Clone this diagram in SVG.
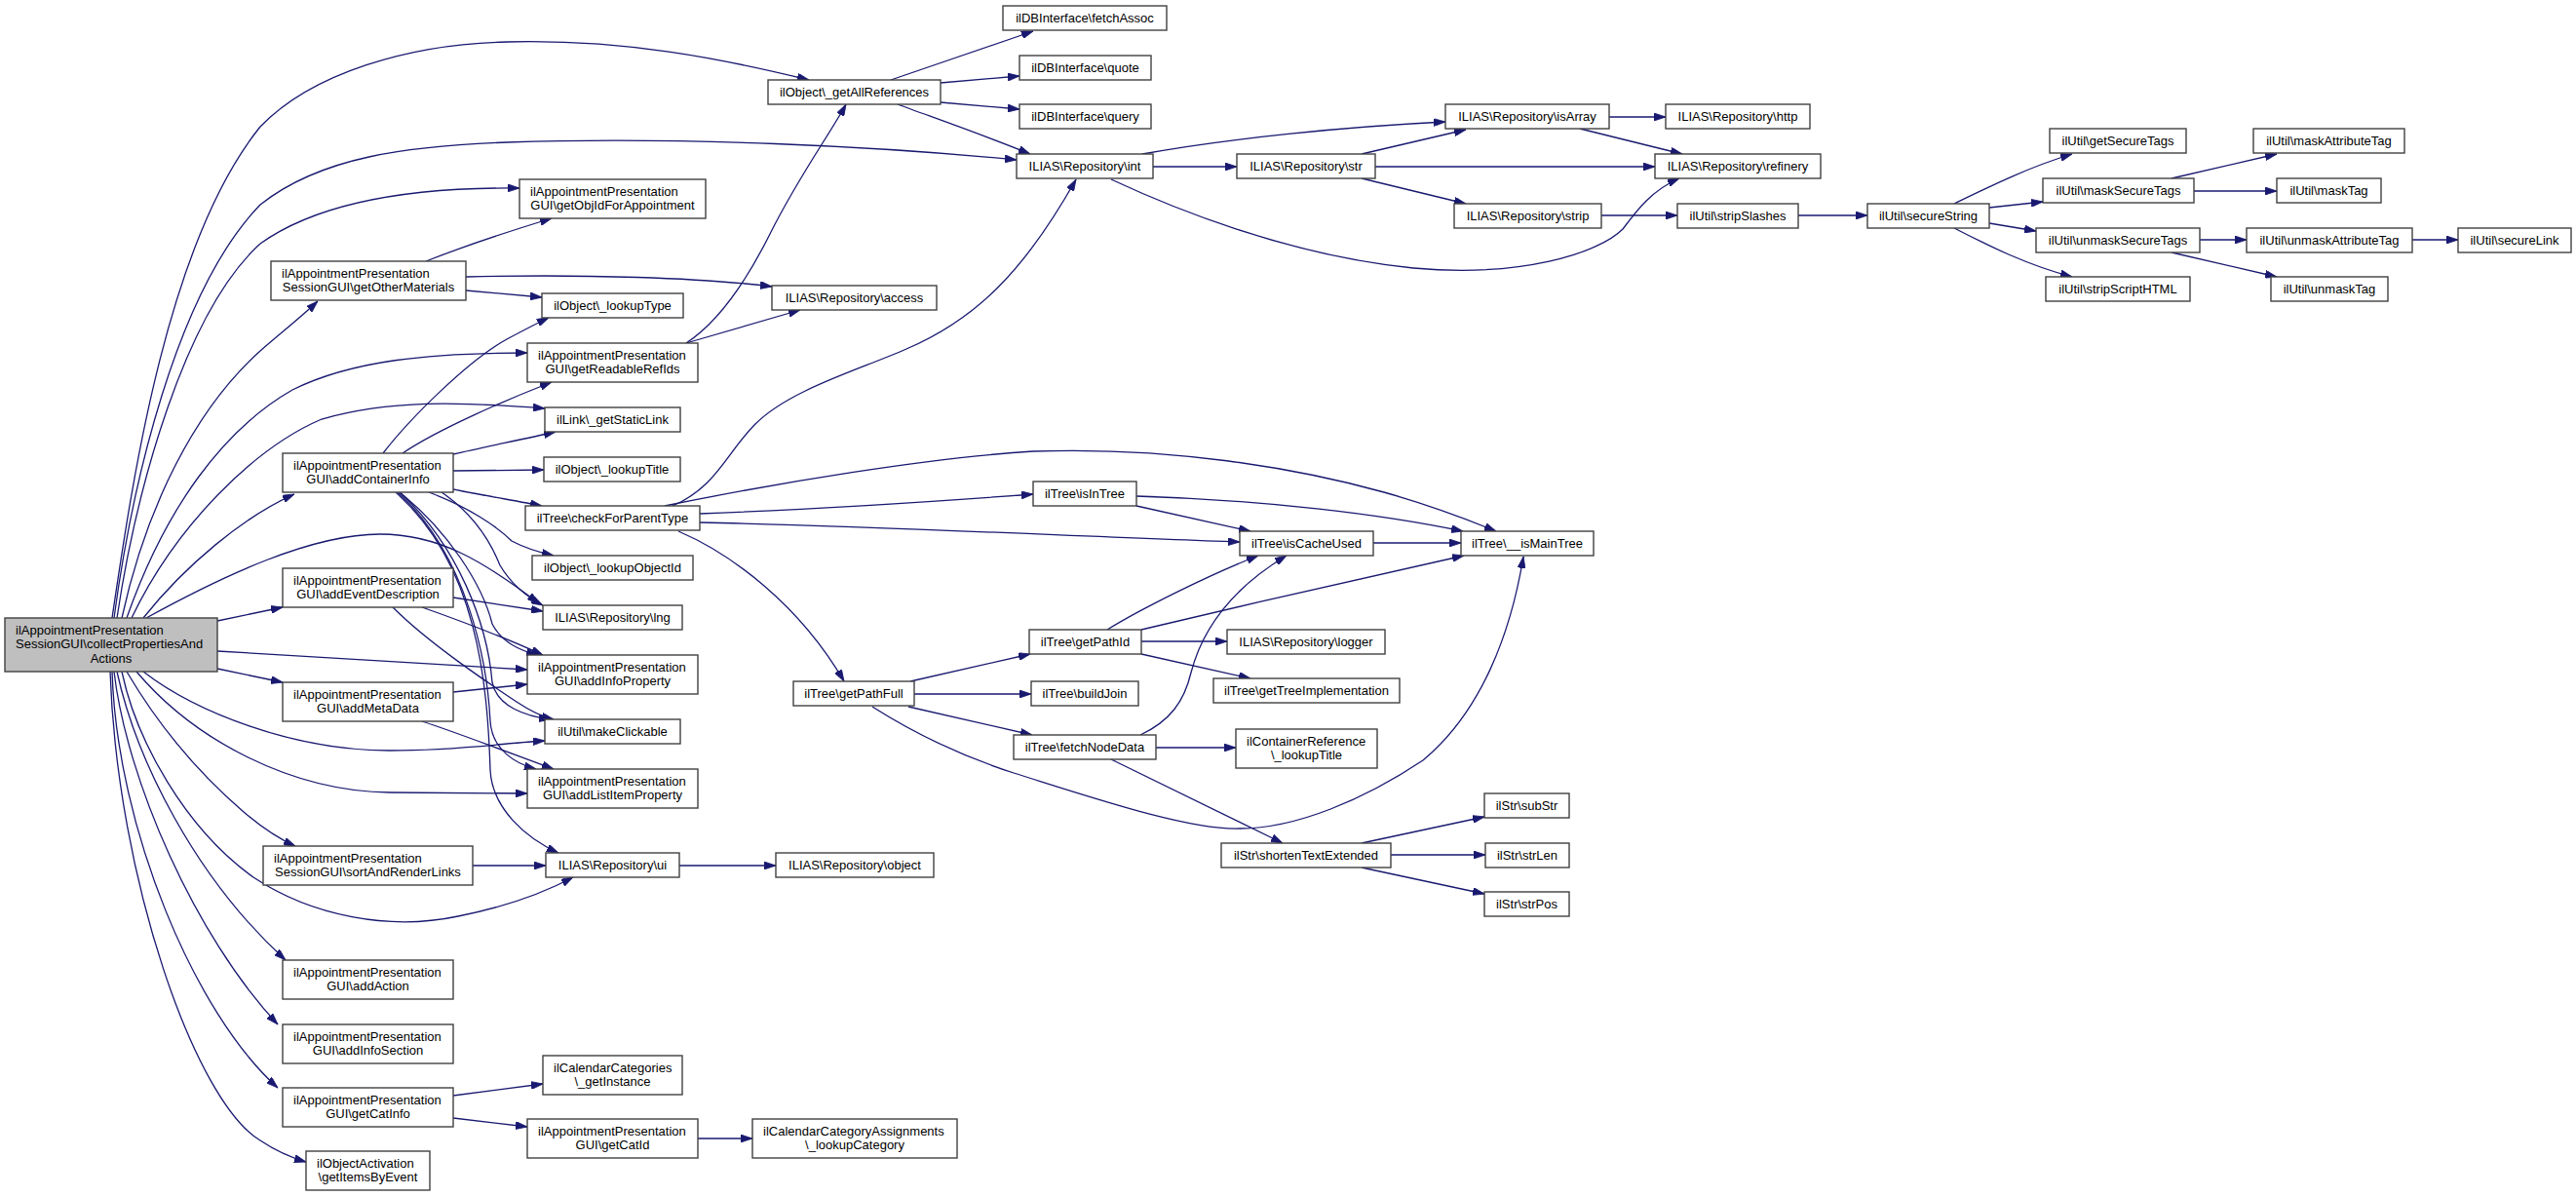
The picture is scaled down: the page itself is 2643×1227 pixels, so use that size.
<svg xmlns="http://www.w3.org/2000/svg" width="2643" height="1227" viewBox="0 0 2643 1227">
<defs>
<marker id="a" viewBox="0 0 12 8" refX="12" refY="4" markerWidth="12" markerHeight="8" markerUnits="userSpaceOnUse" orient="auto">
<path d="M0,0 L12,4 L0,8 z" fill="#191970" stroke="#191970" stroke-width="0.8"/>
</marker>
</defs>
<style>
.n rect{fill:#ffffff;stroke:#404040;stroke-width:1.4}
.root rect{fill:#bfbfbf}
text{font-family:"Liberation Sans",Arial,Helvetica,sans-serif;font-size:13px;fill:#000}
.m{text-anchor:middle}
#edges path{fill:none;stroke:#191970;stroke-width:1.3;marker-end:url(#a)}
</style>
<rect width="2643" height="1227" fill="#ffffff"/>
<g id="edges">
<path d="M115,634 C135,500 170,250 267,130 C320,75 420,45 520,43 C640,40 740,60 830,82"/>
<path d="M117,634 C135,500 180,300 267,210 C330,160 420,150 520,146 C700,140 900,150 1043,164"/>
<path d="M120,634 C140,500 190,320 267,250 C330,205 430,192 533,193"/>
<path d="M125,634 C150,520 200,420 267,360 C290,340 308,326 326,309"/>
<path d="M130,634 C170,520 230,440 300,400 C360,370 440,362 541,362"/>
<path d="M135,634 C180,540 260,460 330,430 C400,410 470,412 559,419"/>
<path d="M147,634 C190,580 250,530 302,507"/>
<path d="M150,634 C230,590 320,548 390,548 C450,548 495,575 553,619"/>
<path d="M223,637 L290,623"/>
<path d="M223,668 L541,687"/>
<path d="M223,686 L290,700"/>
<path d="M147,689 C200,730 300,770 400,770 C470,770 520,762 559,760"/>
<path d="M140,689 C200,760 300,812 400,813 L541,814"/>
<path d="M130,689 C160,740 200,790 250,833 C270,850 285,860 303,868"/>
<path d="M125,689 C140,760 190,850 260,900 C320,940 400,955 470,940 C520,930 560,915 588,900"/>
<path d="M120,689 C140,780 200,900 293,985"/>
<path d="M117,689 C130,800 200,960 285,1051"/>
<path d="M115,689 C120,850 200,1040 285,1116"/>
<path d="M113,689 C120,900 200,1130 267,1170 C285,1182 300,1188 314,1192"/>
<path d="M437,268 C470,255 520,238 566,224"/>
<path d="M478,284 C600,281 720,285 792,294"/>
<path d="M478,298 L556,305"/>
<path d="M393,465 C420,430 480,370 520,348 C535,340 550,332 563,326"/>
<path d="M413,465 C450,440 520,410 566,392"/>
<path d="M465,466 C500,458 540,450 570,443"/>
<path d="M465,483 L558,482"/>
<path d="M465,502 C490,507 530,514 556,519"/>
<path d="M440,505 C480,520 510,540 525,555 C540,563 555,567 568,570"/>
<path d="M453,505 C490,530 505,560 513,580 C525,600 540,612 557,621"/>
<path d="M410,505 C460,545 495,600 505,640 C515,660 535,668 552,672"/>
<path d="M410,505 C470,560 500,640 505,700 C510,725 540,735 565,738"/>
<path d="M408,505 C480,570 500,680 503,740 C505,770 530,784 550,789"/>
<path d="M406,505 C490,580 500,700 503,790 C505,830 540,860 573,875"/>
<path d="M465,613 L557,627"/>
<path d="M433,623 C470,636 520,655 557,672"/>
<path d="M403,623 C440,660 500,700 530,720 C545,730 555,735 568,738"/>
<path d="M465,710 L541,702"/>
<path d="M433,740 C470,752 530,775 568,789"/>
<path d="M485,888 L560,888"/>
<path d="M465,1124 L557,1112"/>
<path d="M465,1147 L541,1156"/>
<path d="M716,1168 L772,1168"/>
<path d="M697,888 L796,888"/>
<path d="M704,352 C730,335 760,300 790,240 C820,180 850,140 868,107"/>
<path d="M704,352 L821,318"/>
<path d="M690,519 C735,500 745,465 775,435 C810,400 880,380 930,358 C1000,328 1050,280 1104,184"/>
<path d="M682,519 C800,495 950,470 1060,463 C1200,458 1330,480 1420,505 C1480,522 1510,535 1535,545"/>
<path d="M718,527 C850,522 980,513 1060,507"/>
<path d="M718,536 C900,540 1100,550 1272,556"/>
<path d="M696,545 C750,568 820,620 866,699"/>
<path d="M934,699 L1057,671"/>
<path d="M938,712 L1058,712"/>
<path d="M932,725 L1059,754"/>
<path d="M895,725 C950,760 1000,780 1040,793 C1120,818 1220,852 1272,850 C1330,850 1400,820 1460,780 C1520,730 1550,650 1563,571"/>
<path d="M1136,646 C1170,625 1240,590 1291,570"/>
<path d="M1171,646 C1280,620 1420,588 1502,570"/>
<path d="M1171,658 L1259,658"/>
<path d="M1171,671 L1283,696"/>
<path d="M1170,754 C1200,740 1215,720 1222,690 C1235,640 1270,600 1320,570"/>
<path d="M1186,767 L1268,767"/>
<path d="M1140,779 L1316,865"/>
<path d="M1166,519 L1283,545"/>
<path d="M1166,509 C1300,513 1420,528 1501,545"/>
<path d="M1409,557 L1499,557"/>
<path d="M1397,865 L1523,838"/>
<path d="M1427,877 L1524,877"/>
<path d="M1397,890 L1523,917"/>
<path d="M914,82 L1060,32"/>
<path d="M965,85 L1046,78"/>
<path d="M965,105 L1046,112"/>
<path d="M921,107 C950,118 1000,135 1057,158"/>
<path d="M1172,158 C1260,142 1380,130 1483,125"/>
<path d="M1183,171 L1269,171"/>
<path d="M1140,184 C1200,212 1320,262 1450,275 C1560,285 1640,260 1665,235 C1680,215 1695,195 1723,183"/>
<path d="M1397,158 L1504,133"/>
<path d="M1411,171 L1698,171"/>
<path d="M1397,183 L1504,209"/>
<path d="M1651,120 L1709,120"/>
<path d="M1621,132 L1726,158"/>
<path d="M1643,221 L1721,221"/>
<path d="M1845,221 L1916,221"/>
<path d="M2005,209 C2040,192 2080,172 2126,158"/>
<path d="M2041,213 L2096,207"/>
<path d="M2041,229 L2089,237"/>
<path d="M2005,234 C2040,252 2080,272 2126,284"/>
<path d="M2228,183 L2336,158"/>
<path d="M2251,196 L2336,196"/>
<path d="M2257,246 L2305,246"/>
<path d="M2228,259 L2336,284"/>
<path d="M2475,246 L2522,246"/>
</g>
<g id="root" class="n root"><rect x="5" y="634" width="218" height="55"/><text x="16" y="650.5">ilAppointmentPresentation</text><text x="16" y="665">SessionGUI\collectPropertiesAnd</text><text class="m" x="114" y="679.5">Actions</text></g>
<g id="getOtherMaterials" class="n"><rect x="278" y="268" width="200" height="40"/><text x="289" y="284.5">ilAppointmentPresentation</text><text class="m" x="378" y="299">SessionGUI\getOtherMaterials</text></g>
<g id="addContainerInfo" class="n"><rect x="290" y="465" width="175" height="40"/><text x="301" y="481.5">ilAppointmentPresentation</text><text class="m" x="377.5" y="496">GUI\addContainerInfo</text></g>
<g id="addEventDescription" class="n"><rect x="290" y="583" width="175" height="40"/><text x="301" y="599.5">ilAppointmentPresentation</text><text class="m" x="377.5" y="614">GUI\addEventDescription</text></g>
<g id="addMetaData" class="n"><rect x="290" y="700" width="175" height="40"/><text x="301" y="716.5">ilAppointmentPresentation</text><text class="m" x="377.5" y="731">GUI\addMetaData</text></g>
<g id="sortAndRenderLinks" class="n"><rect x="270" y="868" width="215" height="40"/><text x="281" y="884.5">ilAppointmentPresentation</text><text class="m" x="377.5" y="899">SessionGUI\sortAndRenderLinks</text></g>
<g id="addAction" class="n"><rect x="290" y="985" width="175" height="40"/><text x="301" y="1001.5">ilAppointmentPresentation</text><text class="m" x="377.5" y="1016">GUI\addAction</text></g>
<g id="addInfoSection" class="n"><rect x="290" y="1051" width="175" height="40"/><text x="301" y="1067.5">ilAppointmentPresentation</text><text class="m" x="377.5" y="1082">GUI\addInfoSection</text></g>
<g id="getCatInfo" class="n"><rect x="290" y="1116" width="175" height="40"/><text x="301" y="1132.5">ilAppointmentPresentation</text><text class="m" x="377.5" y="1147">GUI\getCatInfo</text></g>
<g id="getItemsByEvent" class="n"><rect x="314" y="1181" width="127" height="40"/><text x="325" y="1197.5">ilObjectActivation</text><text class="m" x="377.5" y="1212">\getItemsByEvent</text></g>
<g id="getObjIdForAppointment" class="n"><rect x="533" y="184" width="191" height="40"/><text x="544" y="200.5">ilAppointmentPresentation</text><text class="m" x="628.5" y="215">GUI\getObjIdForAppointment</text></g>
<g id="lookupType" class="n"><rect x="556" y="301" width="145" height="25"/><text class="m" x="628.5" y="318">ilObject\_lookupType</text></g>
<g id="getReadableRefIds" class="n"><rect x="541" y="352" width="175" height="40"/><text x="552" y="368.5">ilAppointmentPresentation</text><text class="m" x="628.5" y="383">GUI\getReadableRefIds</text></g>
<g id="getAllReferences" class="n"><rect x="788" y="82" width="177" height="25"/><text class="m" x="876.5" y="99">ilObject\_getAllReferences</text></g>
<g id="access" class="n"><rect x="792" y="293" width="169" height="25"/><text class="m" x="876.5" y="310">ILIAS\Repository\access</text></g>
<g id="getStaticLink" class="n"><rect x="559" y="418" width="139" height="25"/><text class="m" x="628.5" y="435">ilLink\_getStaticLink</text></g>
<g id="lookupTitle" class="n"><rect x="558" y="469" width="140" height="25"/><text class="m" x="628" y="486">ilObject\_lookupTitle</text></g>
<g id="checkForParentType" class="n"><rect x="539" y="519" width="179" height="25"/><text class="m" x="628.5" y="536">ilTree\checkForParentType</text></g>
<g id="lookupObjectId" class="n"><rect x="546" y="570" width="165" height="25"/><text class="m" x="628.5" y="587">ilObject\_lookupObjectId</text></g>
<g id="lng" class="n"><rect x="557" y="621" width="143" height="25"/><text class="m" x="628.5" y="638">ILIAS\Repository\lng</text></g>
<g id="addInfoProperty" class="n"><rect x="541" y="672" width="175" height="40"/><text x="552" y="688.5">ilAppointmentPresentation</text><text class="m" x="628.5" y="703">GUI\addInfoProperty</text></g>
<g id="makeClickable" class="n"><rect x="559" y="738" width="139" height="25"/><text class="m" x="628.5" y="755">ilUtil\makeClickable</text></g>
<g id="addListItemProperty" class="n"><rect x="541" y="789" width="175" height="40"/><text x="552" y="805.5">ilAppointmentPresentation</text><text class="m" x="628.5" y="820">GUI\addListItemProperty</text></g>
<g id="ui" class="n"><rect x="560" y="875" width="137" height="25"/><text class="m" x="628.5" y="892">ILIAS\Repository\ui</text></g>
<g id="object" class="n"><rect x="796" y="875" width="162" height="25"/><text class="m" x="877" y="892">ILIAS\Repository\object</text></g>
<g id="getInstance" class="n"><rect x="557" y="1083" width="143" height="40"/><text x="568" y="1099.5">ilCalendarCategories</text><text class="m" x="628.5" y="1114">\_getInstance</text></g>
<g id="getCatId" class="n"><rect x="541" y="1148" width="175" height="40"/><text x="552" y="1164.5">ilAppointmentPresentation</text><text class="m" x="628.5" y="1179">GUI\getCatId</text></g>
<g id="lookupCategory" class="n"><rect x="772" y="1148" width="210" height="40"/><text x="783" y="1164.5">ilCalendarCategoryAssignments</text><text class="m" x="877" y="1179">\_lookupCategory</text></g>
<g id="getPathFull" class="n"><rect x="814" y="699" width="124" height="25"/><text class="m" x="876" y="716">ilTree\getPathFull</text></g>
<g id="fetchAssoc" class="n"><rect x="1029" y="6" width="168" height="25"/><text class="m" x="1113" y="23">ilDBInterface\fetchAssoc</text></g>
<g id="quote" class="n"><rect x="1046" y="57" width="135" height="25"/><text class="m" x="1113.5" y="74">ilDBInterface\quote</text></g>
<g id="query" class="n"><rect x="1046" y="107" width="135" height="25"/><text class="m" x="1113.5" y="124">ilDBInterface\query</text></g>
<g id="int" class="n"><rect x="1043" y="158" width="140" height="25"/><text class="m" x="1113" y="175">ILIAS\Repository\int</text></g>
<g id="str" class="n"><rect x="1269" y="158" width="142" height="25"/><text class="m" x="1340" y="175">ILIAS\Repository\str</text></g>
<g id="isArray" class="n"><rect x="1483" y="107" width="168" height="25"/><text class="m" x="1567" y="124">ILIAS\Repository\isArray</text></g>
<g id="strip" class="n"><rect x="1492" y="209" width="151" height="25"/><text class="m" x="1567.5" y="226">ILIAS\Repository\strip</text></g>
<g id="http" class="n"><rect x="1709" y="107" width="148" height="25"/><text class="m" x="1783" y="124">ILIAS\Repository\http</text></g>
<g id="refinery" class="n"><rect x="1698" y="158" width="170" height="25"/><text class="m" x="1783" y="175">ILIAS\Repository\refinery</text></g>
<g id="stripSlashes" class="n"><rect x="1721" y="209" width="124" height="25"/><text class="m" x="1783" y="226">ilUtil\stripSlashes</text></g>
<g id="secureString" class="n"><rect x="1916" y="209" width="125" height="25"/><text class="m" x="1978.5" y="226">ilUtil\secureString</text></g>
<g id="getSecureTags" class="n"><rect x="2103" y="132" width="140" height="25"/><text class="m" x="2173" y="149">ilUtil\getSecureTags</text></g>
<g id="maskSecureTags" class="n"><rect x="2096" y="183" width="155" height="25"/><text class="m" x="2173.5" y="200">ilUtil\maskSecureTags</text></g>
<g id="unmaskSecureTags" class="n"><rect x="2089" y="234" width="168" height="25"/><text class="m" x="2173" y="251">ilUtil\unmaskSecureTags</text></g>
<g id="stripScriptHTML" class="n"><rect x="2099" y="284" width="148" height="25"/><text class="m" x="2173" y="301">ilUtil\stripScriptHTML</text></g>
<g id="maskAttributeTag" class="n"><rect x="2312" y="132" width="155" height="25"/><text class="m" x="2389.5" y="149">ilUtil\maskAttributeTag</text></g>
<g id="maskTag" class="n"><rect x="2336" y="183" width="107" height="25"/><text class="m" x="2389.5" y="200">ilUtil\maskTag</text></g>
<g id="unmaskAttributeTag" class="n"><rect x="2305" y="234" width="170" height="25"/><text class="m" x="2390" y="251">ilUtil\unmaskAttributeTag</text></g>
<g id="unmaskTag" class="n"><rect x="2330" y="284" width="120" height="25"/><text class="m" x="2390" y="301">ilUtil\unmaskTag</text></g>
<g id="secureLink" class="n"><rect x="2522" y="234" width="116" height="25"/><text class="m" x="2580" y="251">ilUtil\secureLink</text></g>
<g id="isInTree" class="n"><rect x="1060" y="494" width="106" height="25"/><text class="m" x="1113" y="511">ilTree\isInTree</text></g>
<g id="isCacheUsed" class="n"><rect x="1272" y="545" width="137" height="25"/><text class="m" x="1340.5" y="562">ilTree\isCacheUsed</text></g>
<g id="isMainTree" class="n"><rect x="1499" y="545" width="136" height="25"/><text class="m" x="1567" y="562">ilTree\__isMainTree</text></g>
<g id="getPathId" class="n"><rect x="1056" y="646" width="115" height="25"/><text class="m" x="1113.5" y="663">ilTree\getPathId</text></g>
<g id="logger" class="n"><rect x="1259" y="646" width="162" height="25"/><text class="m" x="1340" y="663">ILIAS\Repository\logger</text></g>
<g id="buildJoin" class="n"><rect x="1058" y="699" width="110" height="25"/><text class="m" x="1113" y="716">ilTree\buildJoin</text></g>
<g id="getTreeImplementation" class="n"><rect x="1245" y="696" width="191" height="25"/><text class="m" x="1340.5" y="713">ilTree\getTreeImplementation</text></g>
<g id="fetchNodeData" class="n"><rect x="1040" y="754" width="146" height="25"/><text class="m" x="1113" y="771">ilTree\fetchNodeData</text></g>
<g id="containerRefLookupTitle" class="n"><rect x="1268" y="748" width="145" height="40"/><text x="1279" y="764.5">ilContainerReference</text><text class="m" x="1340.5" y="779">\_lookupTitle</text></g>
<g id="shortenTextExtended" class="n"><rect x="1253" y="865" width="174" height="25"/><text class="m" x="1340" y="882">ilStr\shortenTextExtended</text></g>
<g id="subStr" class="n"><rect x="1523" y="814" width="87" height="25"/><text class="m" x="1566.5" y="831">ilStr\subStr</text></g>
<g id="strLen" class="n"><rect x="1524" y="865" width="86" height="25"/><text class="m" x="1567" y="882">ilStr\strLen</text></g>
<g id="strPos" class="n"><rect x="1523" y="915" width="87" height="25"/><text class="m" x="1566.5" y="932">ilStr\strPos</text></g>
</svg>
